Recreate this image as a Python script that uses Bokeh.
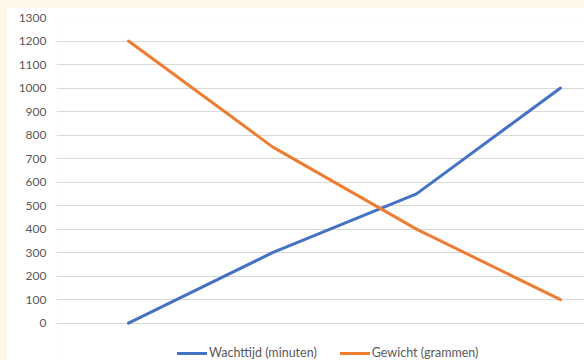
from bokeh.plotting import figure
from bokeh.layouts import column
from bokeh.models import Range1d, Legend, LegendItem, FixedTicker
from bokeh.embed import file_html
from bokeh.resources import INLINE

# data
steps = [1, 2, 3, 4]
wachttijd = [0, 300, 550, 1000]
gewicht = [1200, 750, 400, 100]
series_names = ["Wachttijd (minuten)", "Gewicht (grammen)"]
y_ticks = [0, 100, 200, 300, 400, 500, 600, 700, 800, 900, 1000, 1100, 1200, 1300]

FONT = "Lato"
GREY = "#595959"
CREAM = "#FDF6E9"

PX_PER_UNIT = 305.7 / 1300
y_start = -(37.3 / PX_PER_UNIT)

p = figure(width=578, height=353, output_backend="svg", toolbar_location=None,
           x_range=Range1d(0.5, 0.5 + 528 / 144), y_range=Range1d(y_start, 1300),
           min_border_left=50, min_border_top=10, min_border_right=0, min_border_bottom=0)
p.margin = (7, 0, 0, 6)
p.background_fill_color = "white"
p.border_fill_color = "white"
p.outline_line_color = None

r1 = p.line(steps, wachttijd, line_color="#4472C4", line_width=3, line_cap="round", line_join="round")
r2 = p.line(steps, gewicht, line_color="#ED7D31", line_width=3, line_cap="round", line_join="round")

p.xaxis.visible = False
p.xgrid.visible = False
p.yaxis.ticker = FixedTicker(ticks=y_ticks)
p.yaxis.axis_line_color = None
p.yaxis.major_tick_line_color = None
p.yaxis.minor_tick_line_color = None
p.yaxis.major_tick_out = 0
p.yaxis.major_tick_in = 0
p.yaxis.major_label_standoff = 10
p.yaxis.major_label_text_font = FONT
p.yaxis.major_label_text_font_size = "12px"
p.yaxis.major_label_text_color = GREY
p.ygrid.grid_line_color = "#D9D9D9"
p.ygrid.grid_line_width = 1
p.ygrid.ticker = FixedTicker(ticks=y_ticks)

legend = Legend(items=[LegendItem(label=series_names[0], renderers=[r1]),
                       LegendItem(label=series_names[1], renderers=[r2])],
                orientation="horizontal", location=(121, 0),
                label_text_font=FONT, label_text_font_size="12.5px", label_text_color=GREY,
                glyph_width=30, glyph_height=14, label_standoff=2, spacing=23,
                padding=0, margin=0, border_line_alpha=0, background_fill_alpha=0)
p.add_layout(legend, "center")

layout = column(p, styles={"background-color": CREAM}, sizing_mode="fixed", width=584, height=360)

open("out.html", "w").write(file_html(layout, INLINE))
